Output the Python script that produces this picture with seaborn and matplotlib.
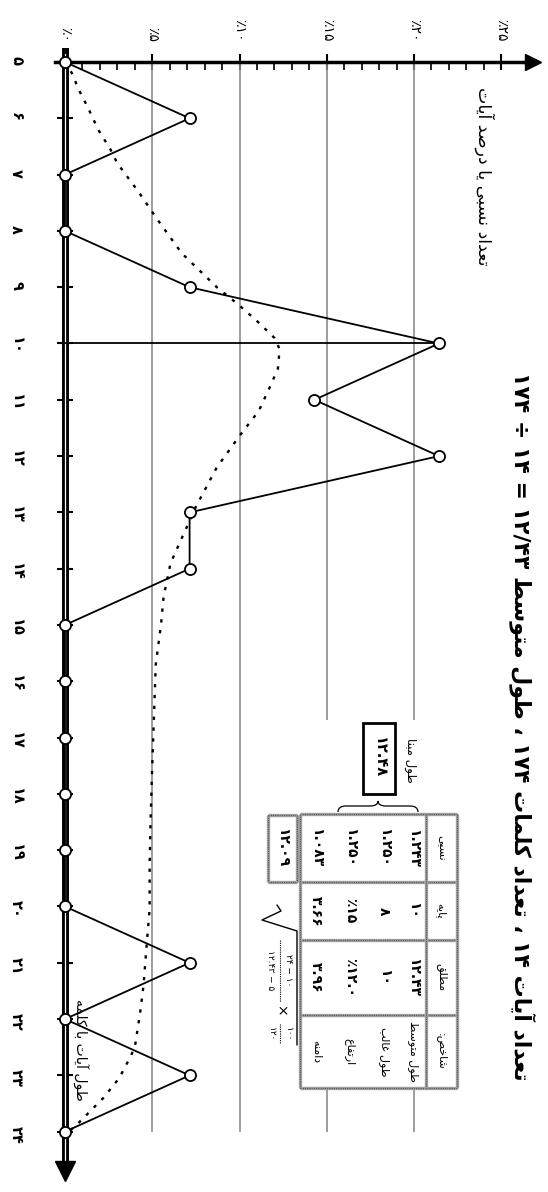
import re
import pandas as pd
import matplotlib
matplotlib.use("Agg")
import matplotlib.pyplot as plt
from matplotlib.path import Path
from matplotlib.patches import PathPatch, Rectangle
from matplotlib.ticker import FuncFormatter
import seaborn as sns

# verse length in words and share of verses (%)
verse_len = list(range(5, 25))
verse_pct = [0, 7.14, 0, 0, 7.14, 21.43, 14.29, 21.43, 7.14, 7.14,
             0, 0, 0, 0, 0, 0, 7.14, 0, 7.14, 0]

# dotted smoothed curve
curve_len = [5.0, 5.2, 5.5, 5.8, 6.2, 6.55, 6.8, 7.3, 7.8, 8.4, 9.0, 9.3, 9.6,
             9.9, 10.1, 10.45, 10.8, 11.2, 11.6, 12.2, 12.9, 13.9, 14.5, 15.0,
             15.7, 16.6, 17.5, 18.5, 19.3, 20.05, 20.6, 21.4, 21.9, 22.5, 22.7,
             23.05, 23.4, 23.65, 23.9, 24.0]
curve_pct = [0.0, 0.4, 0.8, 1.3, 1.9, 2.6, 3.0, 4.2, 5.3, 6.7, 8.7, 9.9, 11.0,
             12.0, 12.3, 12.2, 11.7, 11.1, 10.1, 8.7, 7.5, 6.05, 5.65, 5.5,
             5.2, 5.1, 5.0, 4.9, 4.85, 4.85, 4.7, 4.5, 4.3, 4.0, 3.7,
             3.1, 2.2, 1.4, 0.6, 0.2]

pct_ticks = [0, 5, 10, 15, 20, 25]

title_txt = "تعداد آیات ۱۴ ، تعداد کلمات ۱۷۴ ، طول متوسط ۱۲/۴۳ = ۱۴ ÷ ۱۷۴"
ylabel_txt = "تعداد نسبی یا درصد آیات"
xlabel_txt = "طول آیات با کلمه"

tbl_head = ["نسبی", "پایه", "مطلق", "شاخص:"]
tbl_rows = ["طول متوسط", "طول غالب", "ارتفاع", "دامنه"]
col_rel = ["۱.۲۴۳", "۱.۲۵۰", "۱.۲۵۰", "۱.۰۸۳"]
col_base = ["۱۰", "۸", "٪۱۵", "۳.۶۶"]
col_abs = ["۱۲.۴۳", "۱۰", "٪۱۲.۰", "۳.۹۶"]
rel_mean = "۱۲.۰۹"
base_lbl = "طول مبنا"
base_val = "۱۲.۴۸"

# --- tiny persian shaper (matplotlib has no shaping / bidi) ---
FORMS = {
    "ا": ("\uFE8D", "\uFE8E", None, None),
    "آ": ("\uFE81", "\uFE82", None, None),
    "ب": ("\uFE8F", "\uFE90", "\uFE91", "\uFE92"),
    "پ": ("\uFB56", "\uFB57", "\uFB58", "\uFB59"),
    "ت": ("\uFE95", "\uFE96", "\uFE97", "\uFE98"),
    "خ": ("\uFEA5", "\uFEA6", "\uFEA7", "\uFEA8"),
    "د": ("\uFEA9", "\uFEAA", None, None),
    "ر": ("\uFEAD", "\uFEAE", None, None),
    "س": ("\uFEB1", "\uFEB2", "\uFEB3", "\uFEB4"),
    "ش": ("\uFEB5", "\uFEB6", "\uFEB7", "\uFEB8"),
    "ص": ("\uFEB9", "\uFEBA", "\uFEBB", "\uFEBC"),
    "ط": ("\uFEC1", "\uFEC2", "\uFEC3", "\uFEC4"),
    "ع": ("\uFEC9", "\uFECA", "\uFECB", "\uFECC"),
    "غ": ("\uFECD", "\uFECE", "\uFECF", "\uFED0"),
    "ف": ("\uFED1", "\uFED2", "\uFED3", "\uFED4"),
    "ق": ("\uFED5", "\uFED6", "\uFED7", "\uFED8"),
    "ک": ("\uFB8E", "\uFB8F", "\uFB90", "\uFB91"),
    "ل": ("\uFEDD", "\uFEDE", "\uFEDF", "\uFEE0"),
    "م": ("\uFEE1", "\uFEE2", "\uFEE3", "\uFEE4"),
    "ن": ("\uFEE5", "\uFEE6", "\uFEE7", "\uFEE8"),
    "ه": ("\uFEE9", "\uFEEA", "\uFEEB", "\uFEEC"),
    "و": ("\uFEED", "\uFEEE", None, None),
    "ی": ("\uFBFC", "\uFBFD", "\uFBFE", "\uFBFF"),
}


def fa(text):
    out = []
    for i, ch in enumerate(text):
        if ch not in FORMS:
            out.append(ch)
            continue
        prev = text[i - 1] if i > 0 else ""
        nxt = text[i + 1] if i + 1 < len(text) else ""
        jp = prev in FORMS and FORMS[prev][2] is not None
        jn = nxt in FORMS and FORMS[ch][2] is not None
        iso, fin, ini, med = FORMS[ch]
        out.append(med if (jp and jn) else fin if jp else ini if jn else iso)
    rev = "".join(out)[::-1]
    return re.sub(r"[0-9۰-۹][0-9۰-۹./]*", lambda m: m.group(0)[::-1], rev)


FA_DIGITS = str.maketrans("0123456789", "۰۱۲۳۴۵۶۷۸۹")


def fa_num(v):
    return str(v).translate(FA_DIGITS)


# --- figure ---
W, H = 548, 1192
sns.set_style("white")
plt.rcParams["font.family"] = ["DejaVu Sans"]
fig = plt.figure(figsize=(W / 100, H / 100), dpi=100)

X0, PX_PCT = 65, 17.45   # pixel of 0 %, pixels per %
Y5, PX_W = 62, 56.3      # pixel of length 5, pixels per word

ax = fig.add_axes([0, 0, 1, 1])
ax.set_xlim(-X0 / PX_PCT, (W - X0) / PX_PCT)
ax.set_ylim(5 + (H - Y5) / PX_W, 5 - Y5 / PX_W)


def px_len(y):
    return 5 + (y - Y5) / PX_W


# grid lines (15 and 20 broken where the table sits)
grid_c = "#8c8c8c"
ax.vlines([5, 10], verse_len[0], verse_len[-1], color=grid_c, lw=1.2, zorder=1)
ax.vlines([15, 20], verse_len[0], px_len(720), color=grid_c, lw=1.2, zorder=1)
ax.vlines([15, 20], px_len(1089), verse_len[-1], color=grid_c, lw=1.2, zorder=1)

# mode line
peak = max(verse_pct)
mode_len = verse_len[verse_pct.index(peak)]
ax.plot([0, peak], [mode_len, mode_len], color="black", lw=1.3, zorder=4)

# dotted curve
sns.lineplot(x=curve_pct, y=curve_len, orient="y", sort=False, estimator=None,
             color="black", lw=1.7, linestyle=(0, (1.4, 3.2)), ax=ax, zorder=3)

# frequency polygon
df = pd.DataFrame({"len": verse_len, "pct": verse_pct})
sns.lineplot(data=df, x="pct", y="len", orient="y", sort=False, estimator=None,
             color="black", lw=1.3, marker="o", markersize=8,
             markerfacecolor="white", markeredgecolor="black",
             markeredgewidth=1.3, ax=ax, zorder=6)
ax.set_xlabel("")
ax.set_ylabel("")

# axes
ax.spines["right"].set_visible(False)
ax.spines["bottom"].set_visible(False)
top_end = 26.6
left_end = 24.55
ax.spines["top"].set_position(("data", 5))
ax.spines["top"].set_bounds(-0.6, top_end)
ax.spines["top"].set_linewidth(2.5)
ax.spines["top"].set_color("black")
ax.spines["left"].set_position(("data", 0))
ax.spines["left"].set_bounds(4.8, left_end)
ax.spines["left"].set_linewidth(5)
ax.spines["left"].set_color("black")
ax.plot([0, 0], [4.85, left_end], color="white", lw=0.9, zorder=2.6)
ax.plot(top_end + 0.2, 5, marker=">", ms=11, color="black", clip_on=False, zorder=5)
ax.plot(0, left_end + 0.15, marker="v", ms=14, color="black", clip_on=False, zorder=5)

ax.xaxis.set_ticks_position("top")
ax.set_xticks(pct_ticks)
ax.set_xticks(range(0, 26), minor=True)
ax.xaxis.set_major_formatter(FuncFormatter(lambda v, p: "٪" + fa_num(int(round(v)))))
ax.set_yticks(verse_len)
ax.set_yticklabels([fa_num(v) for v in verse_len])
ax.tick_params(axis="x", which="major", top=True, direction="inout", length=11.5,
               width=1.5, pad=9, labelsize=10, labelrotation=-90,
               colors="black")
ax.tick_params(axis="x", which="minor", top=True, direction="in", length=5.5,
               width=1.2, colors="black")
ax.tick_params(axis="y", left=True, direction="inout", length=11, width=1.5,
               pad=24, labelsize=10.5, labelrotation=-90, colors="black")
for lab in ax.get_yticklabels():
    lab.set_fontweight("bold")

# overlay in pixel coordinates for texts and the table
ov = fig.add_axes([0, 0, 1, 1], facecolor="none")
ov.set_xlim(0, W)
ov.set_ylim(H, 0)
ov.axis("off")
ov.set_zorder(3)


def vtxt(x, y, s, size, weight="normal"):
    ov.text(x, y, s, rotation=-90, ha="center", va="center", fontsize=size,
            fontweight=weight, color="black")


vtxt(522, 726, fa(title_txt), 15.8, "bold")
vtxt(484, 176, fa(ylabel_txt), 12.5)
vtxt(80, 1050, fa(xlabel_txt), 10)


def tline(xs, ys):
    ov.plot(xs, ys, color="#a0a0a0", lw=2.4, solid_capstyle="butt")
    ov.plot(xs, ys, color="#555555", lw=0.8, ls=(0, (1, 1)))


# table frame
t_left, t_sep, t_right = 300, 426, 457
col_edges = [814, 882, 940, 1015, 1088]
for yb in col_edges:
    tline([t_left, t_right], [yb, yb])
for xb in [t_left, t_sep, t_right]:
    tline([xb, xb], [col_edges[0], col_edges[-1]])

col_mid = [(a + b) / 2 for a, b in zip(col_edges[:-1], col_edges[1:])]
row_x = [413, 384, 350, 316]
for yc, h in zip(col_mid, tbl_head):
    vtxt(441, yc, fa(h), 8)
for cy, vals in zip(col_mid[:3], [col_rel, col_base, col_abs]):
    for rx, v in zip(row_x, vals):
        vtxt(rx, cy, v, 10, "bold")
for rx, r in zip(row_x, tbl_rows):
    vtxt(rx, col_mid[3], fa(r), 8)

# mean box
for xs, ys in [([268, 297], [815, 815]), ([268, 297], [882, 882]),
               ([268, 268], [815, 882]), ([297, 297], [815, 882])]:
    tline(xs, ys)
vtxt(282, 848, rel_mean, 10, "bold")

# base length box + brace
ov.add_patch(Rectangle((363, 723), 32, 71, fill=False, ec="black", lw=2))
vtxt(379, 758, base_val, 10.5, "bold")
vtxt(411, 760, fa(base_lbl), 8.5)
brace = [(418, 812), (418, 806), (410, 806), (386, 806), (378, 806), (378, 801),
         (378, 806), (370, 806), (346, 806), (338, 806), (338, 812)]
codes = [Path.MOVETO, Path.CURVE3, Path.CURVE3, Path.LINETO, Path.CURVE3,
         Path.CURVE3, Path.CURVE3, Path.CURVE3, Path.LINETO, Path.CURVE3,
         Path.CURVE3]
ov.add_patch(PathPatch(Path(brace, codes), fill=False, lw=0.9, ec="black"))

# square root formula
ov.plot([277, 281, 262, 297, 297], [905, 911, 920, 931, 1045], color="black", lw=1)
ov.plot([280, 280], [940, 1002], color="black", lw=0.8, ls=(0, (1, 1)))
ov.plot([280, 280], [1024, 1044], color="black", lw=0.8, ls=(0, (1, 1)))
vtxt(288, 970, "۲۴ − ۱۰", 6.5)
vtxt(271, 970, "۱۲.۴۳ − ۵", 6.5)
vtxt(280, 1011, "×", 10)
vtxt(288, 1034, "۱۰۰", 6.5)
vtxt(271, 1034, "۱۲۰", 6.5)

fig.savefig("out.png", dpi=100, facecolor="white")
